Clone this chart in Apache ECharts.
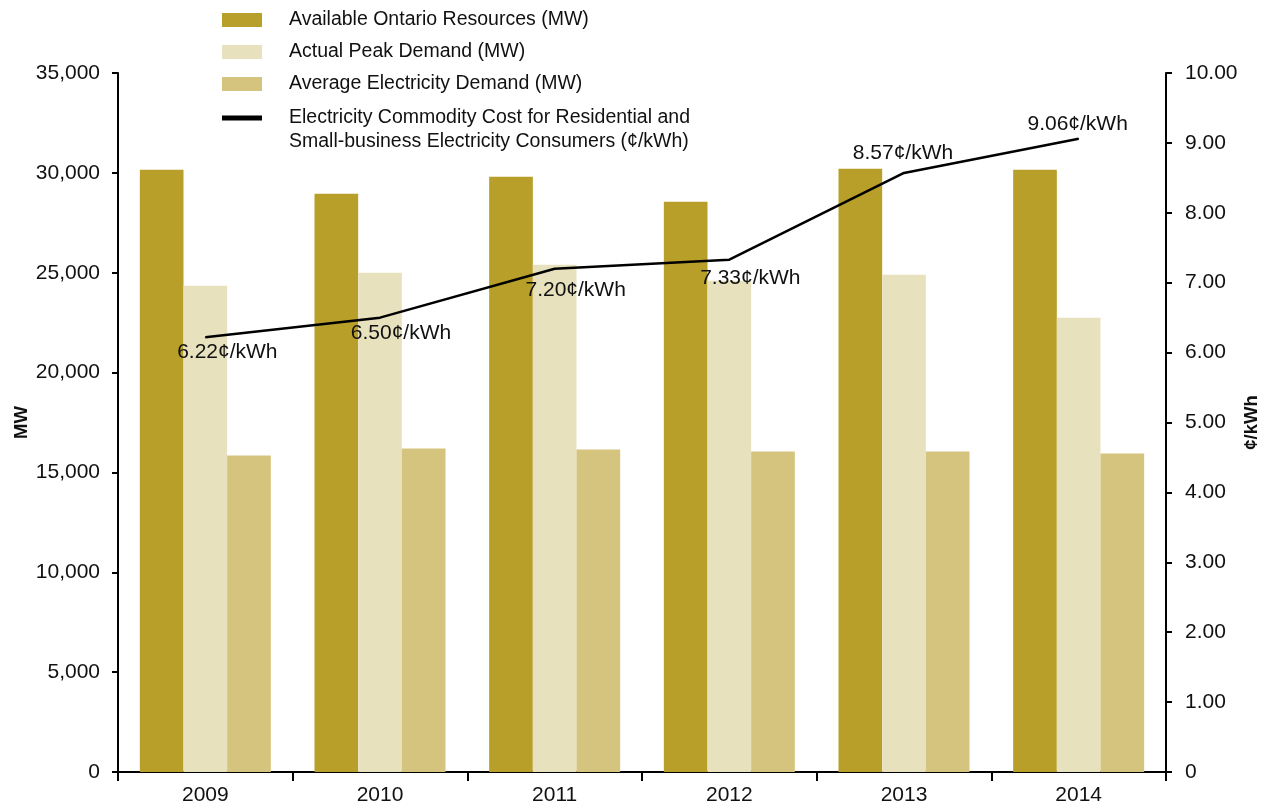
<!DOCTYPE html>
<html>
<head>
<meta charset="utf-8">
<title>Ontario Electricity Resources, Demand and Commodity Cost</title>
<script src="https://cdn.jsdelivr.net/npm/echarts@6/dist/echarts.min.js"></script>
<style>
  html, body { margin: 0; padding: 0; background: #ffffff; }
  #chart { width: 1269px; height: 808px; }
</style>
</head>
<body>
<div id="chart"></div>
<script>
// Years on the category axis
var years = ['2009', '2010', '2011', '2012', '2013', '2014'];

// Megawatt series (left axis)
var availableResources = [30150, 28950, 29800, 28550, 30200, 30150];
var actualPeakDemand   = [24350, 25000, 25400, 24600, 24900, 22750];
var averageDemand      = [15850, 16200, 16150, 16050, 16050, 15950];

// Commodity cost in cents per kWh (right axis)
var commodityCost = [6.22, 6.50, 7.20, 7.33, 8.57, 9.06];

// Series names shown in the legend
var seriesNames = [
  'Available Ontario Resources (MW)',
  'Actual Peak Demand (MW)',
  'Average Electricity Demand (MW)',
  'Electricity Commodity Cost for Residential and\nSmall-business Electricity Consumers (\u00a2/kWh)'
];

// Tick values for both value axes
var mwTicks = [0, 5000, 10000, 15000, 20000, 25000, 30000, 35000];
var costTicks = [0, 1, 2, 3, 4, 5, 6, 7, 8, 9, 10];

var colors = ['#B89F29', '#E7E1BD', '#D5C47E', '#000000'];
var FONT = "'Liberation Sans', Arial, sans-serif";

// Where each cost label sits relative to its point
var costLabelOffsets = [[22, 15], [21, 16], [21, 21], [21, 19], [-1, -20], [-1, -15]];

var costData = commodityCost.map(function (v, i) {
  return { value: v, label: { offset: costLabelOffsets[i] } };
});

// Legend drawn as graphic elements so the two-line entry keeps its swatch on the first line
var legendRowsY = [20, 52, 84, 118];
var legendGraphics = [];
seriesNames.forEach(function (name, i) {
  var isLine = i === 3;
  legendGraphics.push({
    type: 'rect',
    left: 222,
    top: isLine ? legendRowsY[i] - 2.5 : legendRowsY[i] - 7,
    shape: { width: 40, height: isLine ? 5 : 14 },
    style: { fill: colors[i] }
  });
  legendGraphics.push({
    type: 'text',
    left: 289,
    top: legendRowsY[i] - 12,
    style: {
      text: name,
      fill: '#111111',
      font: '19.5px ' + FONT,
      lineHeight: 24,
      verticalAlign: 'top'
    }
  });
});

var chart = echarts.init(document.getElementById('chart'), null, { renderer: 'canvas' });

chart.setOption({
  backgroundColor: '#ffffff',
  animation: false,
  textStyle: { fontFamily: FONT },
  grid: { left: 118, right: 103, top: 73, bottom: 36, containLabel: false, outerBoundsMode: 'none' },
  graphic: legendGraphics,
  xAxis: {
    type: 'category',
    data: years,
    boundaryGap: true,
    axisLine: { show: true, lineStyle: { color: '#000', width: 2 } },
    axisTick: { show: true, interval: 0, length: 9, lineStyle: { color: '#000', width: 2 } },
    axisLabel: { color: '#111', fontSize: 21, margin: 13, fontFamily: FONT },
    splitLine: { show: false }
  },
  yAxis: [
    {
      type: 'value',
      min: mwTicks[0],
      max: mwTicks[mwTicks.length - 1],
      interval: mwTicks[1] - mwTicks[0],
      name: 'MW',
      nameLocation: 'middle',
      nameRotate: 90,
      nameGap: 87,
      nameMoveOverlap: false,
      nameTextStyle: { color: '#111', fontSize: 18.5, fontWeight: 'bold', fontFamily: FONT },
      axisLine: { show: true, lineStyle: { color: '#000', width: 2 } },
      axisTick: { show: true, length: 6, lineStyle: { color: '#000', width: 2 } },
      axisLabel: {
        color: '#111', fontSize: 21, margin: 18, fontFamily: FONT,
        formatter: function (v) { return v === 0 ? '0' : v.toLocaleString('en-US'); }
      },
      splitLine: { show: false }
    },
    {
      type: 'value',
      position: 'right',
      min: costTicks[0],
      max: costTicks[costTicks.length - 1],
      interval: costTicks[1] - costTicks[0],
      name: '\u00a2/kWh',
      nameLocation: 'middle',
      nameRotate: 90,
      nameGap: 76,
      nameMoveOverlap: false,
      nameTextStyle: { color: '#111', fontSize: 18.5, fontWeight: 'bold', fontFamily: FONT },
      axisLine: { show: true, lineStyle: { color: '#000', width: 2 } },
      axisTick: { show: true, length: 6, lineStyle: { color: '#000', width: 2 } },
      axisLabel: {
        color: '#111', fontSize: 21, margin: 19, fontFamily: FONT,
        formatter: function (v) { return v === 0 ? '0' : v.toFixed(2); }
      },
      splitLine: { show: false }
    }
  ],
  series: [
    {
      name: seriesNames[0],
      type: 'bar',
      yAxisIndex: 0,
      data: availableResources,
      itemStyle: { color: colors[0] },
      barGap: '0%',
      barCategoryGap: '25%'
    },
    {
      name: seriesNames[1],
      type: 'bar',
      yAxisIndex: 0,
      data: actualPeakDemand,
      itemStyle: { color: colors[1] },
      barGap: '0%',
      barCategoryGap: '25%'
    },
    {
      name: seriesNames[2],
      type: 'bar',
      yAxisIndex: 0,
      data: averageDemand,
      itemStyle: { color: colors[2] },
      barGap: '0%',
      barCategoryGap: '25%'
    },
    {
      name: seriesNames[3],
      type: 'line',
      yAxisIndex: 1,
      data: costData,
      z: 5,
      symbol: 'circle',
      symbolSize: 1,
      showSymbol: true,
      itemStyle: { color: '#000' },
      lineStyle: { color: '#000', width: 2.5 },
      label: {
        show: true,
        position: 'inside',
        color: '#111',
        fontSize: 21,
        fontFamily: FONT,
        formatter: function (p) { return p.value.toFixed(2) + '\u00a2/kWh'; }
      }
    }
  ]
});
</script>
</body>
</html>
